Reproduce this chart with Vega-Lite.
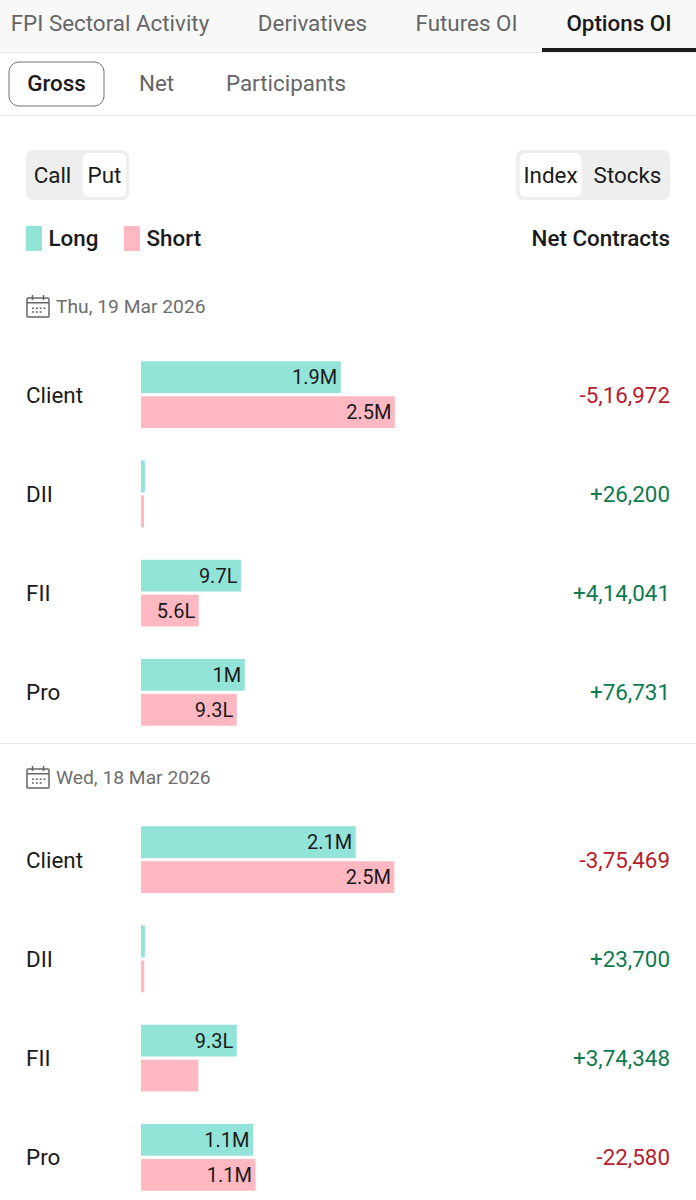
{
  "$schema": "https://vega.github.io/schema/vega-lite/v6.json",
  "description": "Options OI screen: gross put contracts by participant for two trading days.",
  "padding": 0,
  "background": "white",
  "spacing": 0,
  "datasets": {
    "bars": [
      {"date": "Thu", "participant": "Client", "side": "Long", "contracts": 1940000, "label": "1.9M"},
      {"date": "Thu", "participant": "Client", "side": "Short", "contracts": 2465000, "label": "2.5M"},
      {"date": "Thu", "participant": "DII", "side": "Long", "contracts": 38000, "label": null},
      {"date": "Thu", "participant": "DII", "side": "Short", "contracts": 30000, "label": null},
      {"date": "Thu", "participant": "FII", "side": "Long", "contracts": 970000, "label": "9.7L"},
      {"date": "Thu", "participant": "FII", "side": "Short", "contracts": 560000, "label": "5.6L"},
      {"date": "Thu", "participant": "Pro", "side": "Long", "contracts": 1008000, "label": "1M"},
      {"date": "Thu", "participant": "Pro", "side": "Short", "contracts": 930000, "label": "9.3L"},
      {"date": "Wed", "participant": "Client", "side": "Long", "contracts": 2085000, "label": "2.1M"},
      {"date": "Wed", "participant": "Client", "side": "Short", "contracts": 2460000, "label": "2.5M"},
      {"date": "Wed", "participant": "DII", "side": "Long", "contracts": 38000, "label": null},
      {"date": "Wed", "participant": "DII", "side": "Short", "contracts": 32000, "label": null},
      {"date": "Wed", "participant": "FII", "side": "Long", "contracts": 930000, "label": "9.3L"},
      {"date": "Wed", "participant": "FII", "side": "Short", "contracts": 556000, "label": null},
      {"date": "Wed", "participant": "Pro", "side": "Long", "contracts": 1088000, "label": "1.1M"},
      {"date": "Wed", "participant": "Pro", "side": "Short", "contracts": 1112000, "label": "1.1M"}
    ],
    "net": [
      {"date": "Thu", "participant": "Client", "net": -516972, "netLabel": "-5,16,972"},
      {"date": "Thu", "participant": "DII", "net": 26200, "netLabel": "+26,200"},
      {"date": "Thu", "participant": "FII", "net": 414041, "netLabel": "+4,14,041"},
      {"date": "Thu", "participant": "Pro", "net": 76731, "netLabel": "+76,731"},
      {"date": "Wed", "participant": "Client", "net": -375469, "netLabel": "-3,75,469"},
      {"date": "Wed", "participant": "DII", "net": 23700, "netLabel": "+23,700"},
      {"date": "Wed", "participant": "FII", "net": 374348, "netLabel": "+3,74,348"},
      {"date": "Wed", "participant": "Pro", "net": -22580, "netLabel": "-22,580"}
    ]
  },
  "vconcat": [
    {
      "hconcat": [
        {"width": 234, "height": 48, "view": {"fill": "#f8f8f8"}, "data": {"values": [{"tab": "FPI Sectoral Activity"}]}, "mark": {"type": "text", "color": "#666666", "dx": -7}, "encoding": {"text": {"field": "tab"}}},
        {"width": 157, "height": 48, "view": {"fill": "#f8f8f8"}, "data": {"values": [{"tab": "Derivatives"}]}, "mark": {"type": "text", "color": "#666666"}, "encoding": {"text": {"field": "tab"}}},
        {"width": 151, "height": 48, "view": {"fill": "#f8f8f8"}, "data": {"values": [{"tab": "Futures OI"}]}, "mark": {"type": "text", "color": "#666666"}, "encoding": {"text": {"field": "tab"}}},
        {"width": 154, "height": 48, "view": {"fill": "#f8f8f8"}, "data": {"values": [{"tab": "Options OI"}]}, "mark": {"type": "text", "color": "#1a1a1a", "fontWeight": 500}, "encoding": {"text": {"field": "tab"}}}
      ]
    },
    {
      "hconcat": [
        {"width": 542, "height": 4, "data": {"values": [{}]}, "mark": {"type": "rect", "color": "#f8f8f8"}},
        {"width": 154, "height": 4, "data": {"values": [{}]}, "mark": {"type": "rect", "color": "#1a1a1a"}}
      ]
    },
    {"width": 696, "height": 1, "data": {"values": [{}]}, "mark": {"type": "rect", "color": "#eeeeee"}},
    {
      "hconcat": [
        {
          "width": 104,
          "height": 62,
          "data": {"values": [{"tab": "Gross"}]},
          "encoding": {
            "x": {"field": "tab", "type": "nominal", "axis": null, "scale": {"range": [9, 104]}},
            "y": {"field": "tab", "type": "nominal", "axis": null, "scale": {"range": [9, 53]}}
          },
          "layer": [
            {"mark": {"type": "rect", "fill": "white", "stroke": "#707070", "strokeWidth": 1, "cornerRadius": 10}},
            {"mark": {"type": "text", "color": "#1a1a1a", "fontWeight": 500}, "encoding": {"text": {"field": "tab"}}}
          ]
        },
        {"width": 103, "height": 62, "data": {"values": [{"tab": "Net"}]}, "mark": {"type": "text", "color": "#666666"}, "encoding": {"text": {"field": "tab"}}},
        {"width": 156, "height": 62, "data": {"values": [{"tab": "Participants"}]}, "mark": {"type": "text", "color": "#666666"}, "encoding": {"text": {"field": "tab"}}},
        {"width": 333, "height": 62, "data": {"values": [{}]}, "mark": {"type": "rect", "opacity": 0}}
      ]
    },
    {"width": 696, "height": 1, "data": {"values": [{}]}, "mark": {"type": "rect", "color": "#eaeaea"}},
    {"width": 696, "height": 34, "data": {"values": [{}]}, "mark": {"type": "rect", "opacity": 0}},
    {
      "hconcat": [
        {"width": 26, "height": 50, "data": {"values": [{}]}, "mark": {"type": "rect", "opacity": 0}},
        {
          "width": 103,
          "height": 50,
          "data": {"values": [{"option": "Call", "selected": false}, {"option": "Put", "selected": true}]},
          "layer": [
            {"mark": {"type": "rect", "color": "#eeeeee", "cornerRadius": 8}},
            {
              "transform": [{"filter": "datum.selected"}],
              "mark": {"type": "bar", "color": "white", "cornerRadius": 6},
              "encoding": {
                "x": {"field": "option", "type": "nominal", "axis": null, "scale": {"domain": ["Call", "Put"], "range": [2.7, 102.3], "paddingInner": 0.165, "paddingOuter": 0.04}},
                "y": {"field": "selected", "type": "nominal", "axis": null, "scale": {"paddingInner": 0, "paddingOuter": 0.07}}
              }
            },
            {
              "mark": {"type": "text", "color": "#1a1a1a", "dy": 1},
              "encoding": {
                "x": {"field": "option", "type": "nominal", "axis": null, "scale": {"domain": ["Call", "Put"], "range": [2.7, 102.3], "paddingInner": 0.165, "paddingOuter": 0.04}},
                "text": {"field": "option"}
              }
            }
          ]
        },
        {"width": 387, "height": 50, "data": {"values": [{}]}, "mark": {"type": "rect", "opacity": 0}},
        {
          "width": 154,
          "height": 50,
          "data": {"values": [{"option": "Index", "selected": true}, {"option": "Stocks", "selected": false}]},
          "layer": [
            {"mark": {"type": "rect", "color": "#eeeeee", "cornerRadius": 8}},
            {
              "transform": [{"filter": "datum.selected"}],
              "mark": {"type": "bar", "color": "white", "cornerRadius": 6},
              "encoding": {
                "x": {"field": "option", "type": "nominal", "axis": null, "scale": {"domain": ["Index", "Stocks"], "range": [-4, 150], "paddingInner": 0.2, "paddingOuter": 0.1}},
                "y": {"field": "selected", "type": "nominal", "axis": null, "scale": {"paddingInner": 0, "paddingOuter": 0.07}}
              }
            },
            {
              "mark": {"type": "text", "color": "#1a1a1a", "dy": 1},
              "encoding": {
                "x": {"field": "option", "type": "nominal", "axis": null, "scale": {"domain": ["Index", "Stocks"], "range": [-4, 150], "paddingInner": 0.2, "paddingOuter": 0.1}},
                "text": {"field": "option"}
              }
            }
          ]
        },
        {"width": 26, "height": 50, "data": {"values": [{}]}, "mark": {"type": "rect", "opacity": 0}}
      ]
    },
    {
      "width": 696,
      "height": 78,
      "data": {"values": [{"heading": "Net Contracts"}]},
      "mark": {"type": "text", "color": "#1a1a1a", "fontWeight": 500, "align": "right", "dx": -26},
      "encoding": {"x": {"value": "width"}, "text": {"field": "heading"}}
    },
    {
      "hconcat": [
        {"width": 24, "height": 56, "data": {"values": [{}]}, "mark": {"type": "rect", "opacity": 0}},
        {
          "width": 26,
          "height": 56,
          "data": {"values": [{}]},
          "mark": {
            "type": "point",
            "filled": false,
            "opacity": 1,
            "color": "#666666",
            "strokeWidth": 1.5,
            "size": 484,
            "shape": "M-.9,-.72H.9Q1,-.72 1,-.62V.9Q1,1 .9,1H-.9Q-1,1 -1,.9V-.62Q-1,-.72 -.9,-.72ZM-1,-.3H1M-.5,-1V-.55M.5,-1V-.55M-.55,.2h.18M-.2,.2h.18M.15,.2h.18M.5,.2h.18M-.55,.55h.18M-.2,.55h.18M.15,.55h.18"
          }
        },
        {"width": 4, "height": 56, "data": {"values": [{}]}, "mark": {"type": "rect", "opacity": 0}},
        {
          "width": 642,
          "height": 56,
          "data": {"values": [{"day": "Thu, 19 Mar 2026"}]},
          "mark": {"type": "text", "color": "#6e6e6e", "align": "left", "fontSize": 19.25, "dy": 1},
          "encoding": {"x": {"value": 0}, "text": {"field": "day"}}
        }
      ]
    },
    {
      "width": 696,
      "height": 409,
      "encoding": {
        "y": {
          "field": "participant",
          "type": "nominal",
          "title": null,
          "scale": {"domain": ["Client", "DII", "FII", "Pro"], "range": [11, 408], "paddingInner": 0.325, "paddingOuter": 0.1625},
          "axis": {"orient": "left", "labelPadding": -25.5, "labelAlign": "left", "labelFontSize": 22.4, "labelColor": "#1a1a1a", "labelOffset": 1, "ticks": false, "domain": false, "grid": false}
        }
      },
      "layer": [
        {
          "data": {"name": "bars"},
          "transform": [{"filter": "datum.date == 'Thu'"}],
          "mark": {"type": "bar"},
          "encoding": {
            "x": {"field": "contracts", "type": "quantitative", "axis": null, "scale": {"domain": [0, 2500000], "range": [141, 398.5]}},
            "yOffset": {"field": "side", "scale": {"domain": ["Long", "Short"], "paddingInner": 0.09, "paddingOuter": 0}},
            "color": {
              "field": "side",
              "type": "nominal",
              "scale": {"domain": ["Long", "Short"], "range": ["#93e4d8", "#ffb8c2"]},
              "legend": {"orient": "none", "legendX": 21.5, "legendY": 226, "direction": "horizontal", "columns": 2, "title": null, "padding": 0, "symbolType": "M-0.64,-1H0.64V1H-0.64Z", "symbolSize": 625, "symbolStrokeWidth": 0, "labelFontSize": 22.4, "labelFontWeight": 500, "labelColor": "#1a1a1a", "labelOffset": 2, "columnPadding": 21}
            }
          }
        },
        {
          "data": {"name": "bars"},
          "transform": [{"filter": "datum.date == 'Thu' && datum.label != null"}],
          "mark": {"type": "text", "color": "#1a1a1a", "align": "right", "dx": -3.5, "dy": 1, "fontSize": 20},
          "encoding": {
            "x": {"field": "contracts", "type": "quantitative", "axis": null, "scale": {"domain": [0, 2500000], "range": [141, 398.5]}},
            "yOffset": {"field": "side", "scale": {"domain": ["Long", "Short"], "paddingInner": 0.09, "paddingOuter": 0}},
            "text": {"field": "label"}
          }
        },
        {
          "data": {"name": "net"},
          "transform": [{"filter": "datum.date == 'Thu'"}],
          "mark": {"type": "text", "align": "right", "dx": -26, "dy": 1},
          "encoding": {
            "x": {"value": "width"},
            "text": {"field": "netLabel"},
            "color": {"condition": {"test": "datum.net < 0", "value": "#b71c2c"}, "value": "#0f7a4d"}
          }
        }
      ]
    },
    {"width": 696, "height": 1, "data": {"values": [{}]}, "mark": {"type": "rect", "color": "#e8e8e8"}},
    {
      "hconcat": [
        {"width": 24, "height": 66, "data": {"values": [{}]}, "mark": {"type": "rect", "opacity": 0}},
        {
          "width": 26,
          "height": 66,
          "data": {"values": [{}]},
          "mark": {
            "type": "point",
            "filled": false,
            "opacity": 1,
            "color": "#666666",
            "strokeWidth": 1.5,
            "size": 484,
            "shape": "M-.9,-.72H.9Q1,-.72 1,-.62V.9Q1,1 .9,1H-.9Q-1,1 -1,.9V-.62Q-1,-.72 -.9,-.72ZM-1,-.3H1M-.5,-1V-.55M.5,-1V-.55M-.55,.2h.18M-.2,.2h.18M.15,.2h.18M.5,.2h.18M-.55,.55h.18M-.2,.55h.18M.15,.55h.18"
          }
        },
        {"width": 4, "height": 66, "data": {"values": [{}]}, "mark": {"type": "rect", "opacity": 0}},
        {
          "width": 642,
          "height": 66,
          "data": {"values": [{"day": "Wed, 18 Mar 2026"}]},
          "mark": {"type": "text", "color": "#6e6e6e", "align": "left", "fontSize": 19.25, "dy": 1},
          "encoding": {"x": {"value": 0}, "text": {"field": "day"}}
        }
      ]
    },
    {
      "width": 696,
      "height": 390,
      "encoding": {
        "y": {
          "field": "participant",
          "type": "nominal",
          "title": null,
          "scale": {"domain": ["Client", "DII", "FII", "Pro"], "range": [0, 397], "paddingInner": 0.325, "paddingOuter": 0.1625},
          "axis": {"orient": "left", "labelPadding": -25.5, "labelAlign": "left", "labelFontSize": 22.4, "labelColor": "#1a1a1a", "labelOffset": 1, "ticks": false, "domain": false, "grid": false}
        }
      },
      "layer": [
        {
          "data": {"name": "bars"},
          "transform": [{"filter": "datum.date == 'Wed'"}],
          "mark": {"type": "bar"},
          "encoding": {
            "x": {"field": "contracts", "type": "quantitative", "axis": null, "scale": {"domain": [0, 2500000], "range": [141, 398.5]}},
            "yOffset": {"field": "side", "scale": {"domain": ["Long", "Short"], "paddingInner": 0.09, "paddingOuter": 0}},
            "color": {
              "field": "side",
              "type": "nominal",
              "scale": {"domain": ["Long", "Short"], "range": ["#93e4d8", "#ffb8c2"]},
              "legend": {"orient": "none", "legendX": 21.5, "legendY": 226, "direction": "horizontal", "columns": 2, "title": null, "padding": 0, "symbolType": "M-0.64,-1H0.64V1H-0.64Z", "symbolSize": 625, "symbolStrokeWidth": 0, "labelFontSize": 22.4, "labelFontWeight": 500, "labelColor": "#1a1a1a", "labelOffset": 2, "columnPadding": 21}
            }
          }
        },
        {
          "data": {"name": "bars"},
          "transform": [{"filter": "datum.date == 'Wed' && datum.label != null"}],
          "mark": {"type": "text", "color": "#1a1a1a", "align": "right", "dx": -3.5, "dy": 1, "fontSize": 20},
          "encoding": {
            "x": {"field": "contracts", "type": "quantitative", "axis": null, "scale": {"domain": [0, 2500000], "range": [141, 398.5]}},
            "yOffset": {"field": "side", "scale": {"domain": ["Long", "Short"], "paddingInner": 0.09, "paddingOuter": 0}},
            "text": {"field": "label"}
          }
        },
        {
          "data": {"name": "net"},
          "transform": [{"filter": "datum.date == 'Wed'"}],
          "mark": {"type": "text", "align": "right", "dx": -26, "dy": 1},
          "encoding": {
            "x": {"value": "width"},
            "text": {"field": "netLabel"},
            "color": {"condition": {"test": "datum.net < 0", "value": "#b71c2c"}, "value": "#0f7a4d"}
          }
        }
      ]
    }
  ],
  "config": {
    "font": "Roboto",
    "view": {"stroke": null},
    "concat": {"spacing": 0},
    "text": {"fontSize": 22.4, "baseline": "middle"}
  }
}
